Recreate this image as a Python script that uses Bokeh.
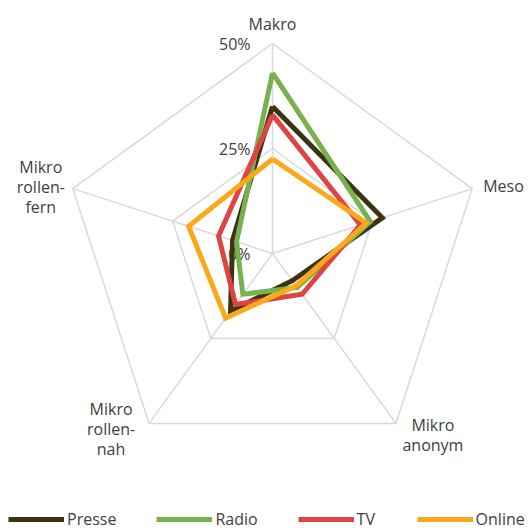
import numpy as np
from bokeh.plotting import figure
from bokeh.models import Range1d, Legend, LegendItem
from bokeh.embed import file_html
from bokeh.resources import INLINE
from bokeh.core.properties import value

# ---- data ----
categories = ["Makro", "Meso", "Mikro\nanonym", "Mikro\nrollen-\nnah", "Mikro\nrollen-\nfern"]
series_names = ["Presse", "Radio", "TV", "Online"]
presse = [35, 27.5, 8, 17, 10]
radio = [43, 24.5, 10, 12, 9]
tv = [33, 22, 12, 15, 13.5]
online = [22.5, 23.5, 9.5, 19, 21]
grid_levels = [0, 25, 50]
tick_labels = ["0%", "25%", "50%"]

# ---- style / layout ----
colors = ["#3B3311", "#77B24E", "#DF4342", "#FBA81B"]
grid_color = "#D9D9D9"
text_color = "#404040"
font = "Open Sans"
PX = 4.2  # pixels per percent
W, H = 531, 532
CX, CY = 272, 253  # centre in pixels
LINE_SP = 20
# label offsets (px) from the outer vertex: (dx, dy downwards), align
label_offsets = [(0, -20, "center"), (11, -3, "left"), (37, 12, "center"),
                 (-38, 6, "center"), (-32, -2, "center")]

n = len(categories)
angles = np.deg2rad(90 - 72 * np.arange(n))
rmax = max(grid_levels)

p = figure(width=W, height=H, output_backend="svg", toolbar_location=None,
           x_range=Range1d(-CX / PX, (W - CX) / PX), y_range=Range1d(-(H - CY) / PX, CY / PX),
           min_border=0)
p.xaxis.visible = False
p.yaxis.visible = False
p.xgrid.visible = False
p.ygrid.visible = False
p.outline_line_color = None
p.background_fill_color = "white"
p.border_fill_color = "white"

# grid pentagons
for lev in grid_levels:
    if lev == 0:
        continue
    xs = list(lev * np.cos(angles)) + [lev * np.cos(angles[0])]
    ys = list(lev * np.sin(angles)) + [lev * np.sin(angles[0])]
    p.line(xs, ys, line_color=grid_color, line_width=1.5)
# spokes
for a in angles:
    p.line([0, rmax * np.cos(a)], [0, rmax * np.sin(a)], line_color=grid_color, line_width=1.5)

# tick labels
p.text(x=[-22 / PX] * len(grid_levels), y=grid_levels, text=tick_labels,
       text_align="right", text_baseline="middle", text_font=value(font),
       text_font_size="16px", text_color=text_color)

# category labels (one text per line)
for cat, a, (dx, dy, al) in zip(categories, angles, label_offsets):
    lines = cat.split("\n")
    x = rmax * np.cos(a) + dx / PX
    yc = rmax * np.sin(a) - dy / PX
    k = len(lines)
    ys = [yc + ((k - 1) / 2 - i) * LINE_SP / PX for i in range(k)]
    p.text(x=[x] * k, y=ys, text=lines, text_align=al, text_baseline="middle",
           text_font=value(font), text_font_size="16px", text_color=text_color)

# series
renderers = []
for vals, col in zip([presse, radio, tv, online], colors):
    v = np.array(vals + [vals[0]], dtype=float)
    aa = np.append(angles, angles[0])
    r = p.line(v * np.cos(aa), v * np.sin(aa), line_color=col, line_width=5,
               line_join="miter")
    renderers.append(r)

legend = Legend(items=[LegendItem(label=nm, renderers=[r]) for nm, r in zip(series_names, renderers)],
                orientation="horizontal", location=(8, 2), glyph_width=56, glyph_height=20,
                label_standoff=3, spacing=40, padding=0, margin=0,
                border_line_color=None, background_fill_alpha=0,
                label_text_font=font, label_text_font_size="16px",
                label_text_color=text_color, label_height=20)
p.add_layout(legend)

open("out.html", "w").write(file_html(p, INLINE))
